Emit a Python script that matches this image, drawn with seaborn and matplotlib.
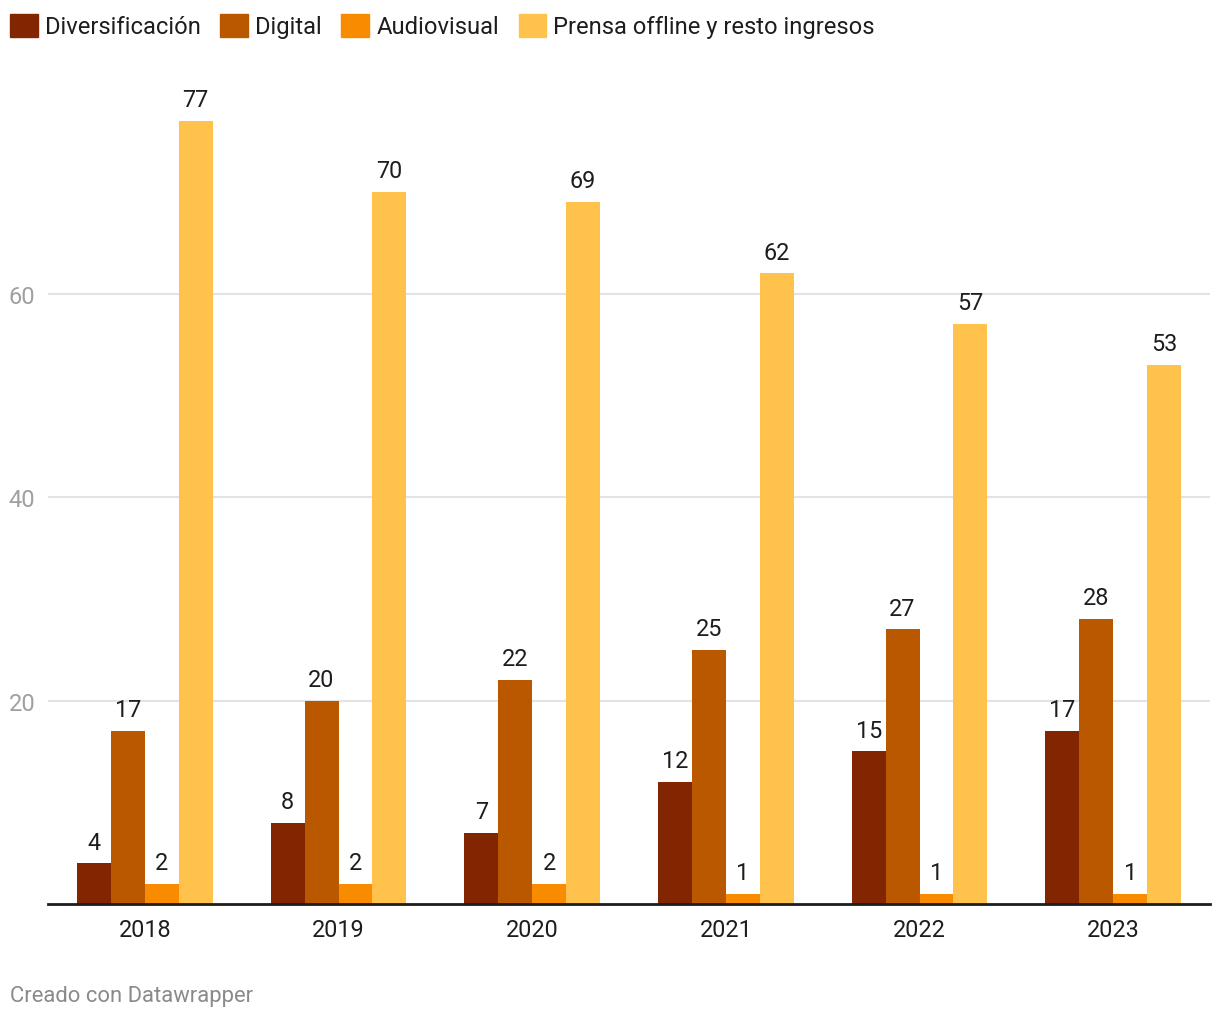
import matplotlib
matplotlib.use('Agg')
import matplotlib.pyplot as plt
import pandas as pd
import seaborn as sns

# Data
years = ['2018', '2019', '2020', '2021', '2022', '2023']
series = ['Diversificación', 'Digital', 'Audiovisual', 'Prensa offline y resto ingresos']
diversificacion = [4, 8, 7, 12, 15, 17]
digital = [17, 20, 22, 25, 27, 28]
audiovisual = [2, 2, 2, 1, 1, 1]
prensa = [77, 70, 69, 62, 57, 53]
colors = ['#822602', '#ba5800', '#f98b00', '#fec24d']

# Long format for seaborn
rows = []
for name, values in zip(series, [diversificacion, digital, audiovisual, prensa]):
    for year, v in zip(years, values):
        rows.append({'Año': year, 'Serie': name, 'Valor': v})
df = pd.DataFrame(rows)

sns.set_style('white')
plt.rcParams['font.family'] = ['Roboto', 'DejaVu Sans']

fig = plt.figure(figsize=(12.2, 10.2), dpi=100)
ax = fig.add_axes([48 / 1220, 1 - 905 / 1020, 1162 / 1220, 824 / 1020])

sns.barplot(data=df, x='Año', y='Valor', hue='Serie', hue_order=series,
            palette=colors, width=0.7, gap=0, saturation=1, ax=ax,
            legend=False, errorbar=None, linewidth=0, edgecolor='none')

# Value labels above each bar
for container in ax.containers:
    ax.bar_label(container, fmt='%d', padding=7, fontsize=16.8, color='#1d1d1d')

ax.set_ylim(0, 81)
ax.set_xlim(-0.5, 5.5)
ax.set_yticks([20, 40, 60])
ax.grid(axis='y', color='#e3e3e3', linewidth=1.5)
ax.set_axisbelow(True)
for s in ['top', 'right', 'left']:
    ax.spines[s].set_visible(False)
ax.spines['bottom'].set_color('#1d1d1d')
ax.spines['bottom'].set_linewidth(2)
ax.tick_params(axis='y', length=0, pad=9, labelsize=17, labelcolor='#a0a0a0')
ax.tick_params(axis='x', length=0, pad=10, labelsize=16.8, labelcolor='#1d1d1d')
ax.set_xlabel('')
ax.set_ylabel('')

# Legend at the top
handles = [plt.Rectangle((0, 0), 1, 1, color=c) for c in colors]
fig.legend(handles, series, loc='center left', bbox_to_anchor=(10 / 1220, 1 - 27 / 1020),
           ncol=4, frameon=False, fontsize=17.1, handlelength=1.17, handleheight=1.17,
           handletextpad=0.3, columnspacing=0.82, borderaxespad=0, borderpad=0,
           labelcolor='#1d1d1d')

fig.text(10 / 1220, 1 - 997 / 1020, 'Creado con Datawrapper', fontsize=15.8,
         color='#8a8a8a', va='center', ha='left')

fig.savefig('out.png', dpi=100)
plt.close(fig)
